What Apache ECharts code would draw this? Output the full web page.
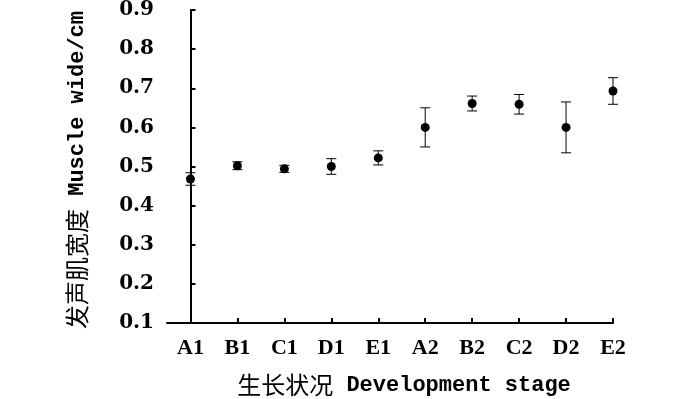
<!DOCTYPE html>
<html>
<head>
<meta charset="utf-8">
<script src="https://cdn.jsdelivr.net/npm/echarts@6/dist/echarts.min.js"></script>
<style>html,body{margin:0;padding:0;background:#fff}#c{width:700px;height:399px}</style>
</head>
<body>
<div id="c"></div>
<script>
var categories = ['A1','B1','C1','D1','E1','A2','B2','C2','D2','E2'];
var meanValues = [0.468, 0.502, 0.494, 0.500, 0.522, 0.600, 0.661, 0.659, 0.600, 0.693];
var errValues  = [0.016, 0.010, 0.009, 0.020, 0.018, 0.050, 0.019, 0.025, 0.065, 0.034];
var yTicks = [0.1,0.2,0.3,0.4,0.5,0.6,0.7,0.8,0.9];
var xTitleCn = '生长状况', xTitleEn = ' Development stage';
var yTitleCn = '发声肌宽度', yTitleEn = ' Muscle wide/cm';

var idx = categories.map(function(_, i){ return i; });
var points = meanValues.map(function(v, i){ return [i, v]; });
var bars = meanValues.map(function(v, i){ return [i, v - errValues[i], v + errValues[i]]; });

var monoFont = '"Liberation Mono", "DejaVu Sans Mono", monospace';
var chart = echarts.init(document.getElementById('c'));
chart.setOption({
  animation: false,
  backgroundColor: '#fff',
  grid: {left: 167, top: 10, width: 446, height: 313},
  xAxis: {
    type: 'value', min: -0.5, max: 9,
    splitLine: {show: false},
    axisLine: {show: true, lineStyle: {color: '#000', width: 2}},
    axisTick: {show: true, inside: true, length: 5, lineStyle: {color: '#000', width: 2}, customValues: idx},
    axisLabel: {customValues: idx, margin: 14, fontSize: 22, fontFamily: '"Liberation Serif", serif', fontWeight: 'bold', color: '#000',
      formatter: function(v){ return categories[Math.round(v)] || ''; }}
  },
  yAxis: {
    type: 'value', min: 0.1, max: 0.9, interval: 0.1,
    splitLine: {show: false},
    axisLine: {show: true, lineStyle: {color: '#000', width: 2}},
    axisTick: {show: true, inside: true, length: 5, lineStyle: {color: '#000', width: 2}},
    axisLabel: {margin: 13, fontSize: 20, fontFamily: '"DejaVu Serif", serif', fontWeight: 'bold', color: '#000',
      formatter: function(v){ return v.toFixed(1); }}
  },
  series: [
    {
      type: 'custom',
      data: bars,
      encode: {x: 0, y: [1, 2]},
      renderItem: function(params, api){
        var x = api.value(0);
        var lo = api.coord([x, api.value(1)]);
        var hi = api.coord([x, api.value(2)]);
        var hw = 5;
        var st = {stroke: '#000', lineWidth: 1};
        return {type: 'group', children: [
          {type: 'line', shape: {x1: lo[0], y1: lo[1], x2: hi[0], y2: hi[1]}, style: st},
          {type: 'line', shape: {x1: lo[0]-hw, y1: lo[1], x2: lo[0]+hw, y2: lo[1]}, style: st},
          {type: 'line', shape: {x1: hi[0]-hw, y1: hi[1], x2: hi[0]+hw, y2: hi[1]}, style: st}
        ]};
      },
      z: 2
    },
    {
      type: 'scatter',
      data: points,
      symbol: 'circle',
      symbolSize: 9,
      itemStyle: {color: '#000', opacity: 1},
      z: 3
    }
  ],
  graphic: [
    {
      type: 'text', x: 404, y: 385,
      style: {
        text: '{cn|' + xTitleCn + '}{en|' + xTitleEn + '}',
        align: 'center', verticalAlign: 'middle',
        rich: {
          cn: {fontFamily: '"Noto Sans CJK SC"', fontSize: 24, fill: '#000'},
          en: {fontFamily: monoFont, fontWeight: 'bold', fontSize: 22, fill: '#000'}
        }
      }
    },
    {
      type: 'text', x: 77, y: 170, rotation: Math.PI / 2,
      style: {
        text: '{cn|' + yTitleCn + '}{en|' + yTitleEn + '}',
        align: 'center', verticalAlign: 'middle',
        rich: {
          cn: {fontFamily: '"Noto Sans CJK SC"', fontSize: 24, fill: '#000'},
          en: {fontFamily: monoFont, fontWeight: 'bold', fontSize: 22, fill: '#000'}
        }
      }
    }
  ]
});
</script>
</body>
</html>
